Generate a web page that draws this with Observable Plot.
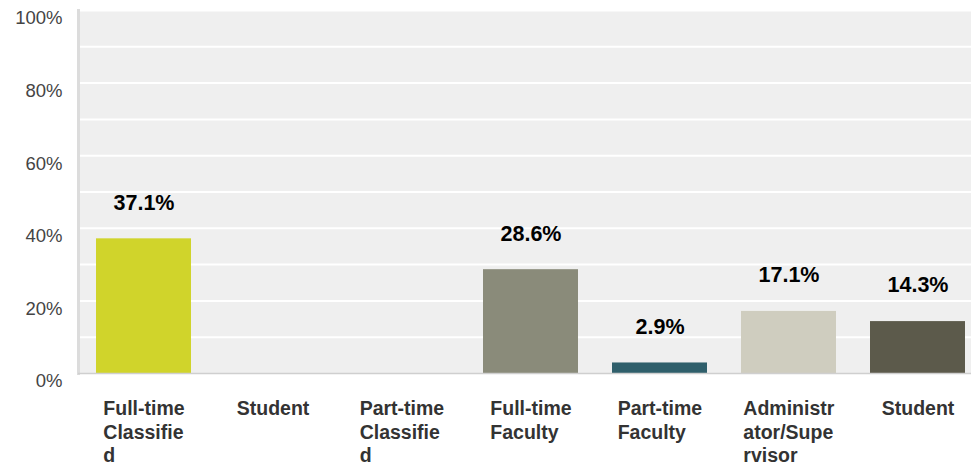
<!DOCTYPE html>
<html><head><meta charset="utf-8">
<script src="https://cdn.jsdelivr.net/npm/d3@7"></script>
<script src="https://cdn.jsdelivr.net/npm/@observablehq/plot@0.6"></script>
<style>
body{margin:0;background:#fff;}
svg{font-family:"Liberation Sans",Arial,Helvetica,sans-serif;}
</style>
</head><body><div id="chart"></div>
<script>
const categories = ["Full-time Classified","Student","Part-time Classified","Full-time Faculty","Part-time Faculty","Administrator/Supervisor","Student"];
const tickLabels = ["Full-time\nClassifie\nd","Student","Part-time\nClassifie\nd","Full-time\nFaculty","Part-time\nFaculty","Administr\nator/Supe\nrvisor","Student"];
const values = [37.1, 0, 0, 28.6, 2.9, 17.1, 14.3];
const colors = ["#d0d42b","#8a8b7a","#2f5f6b","#8a8b7a","#2f5f6b","#cfcdbf","#5c5a4b"];
const yTicks = [0,20,40,60,80,100];
const gridTicks = [10,20,30,40,50,60,70,80,90,100];

const data = categories.map((c,i)=>({i, category:c, value: values[i], color: colors[i]}));

const chart = Plot.plot({
  width: 971, height: 466,
  marginLeft: 78, marginRight: 0, marginTop: 10, marginBottom: 93,
  style: {fontFamily: '"Liberation Sans",Arial,Helvetica,sans-serif', background: "#fff"},
  x: {domain: d3.range(categories.length), range: [78, 983], paddingInner: 0.265, paddingOuter: 0.1325, axis: null},
  y: {domain: [0,100], axis: null},
  marks: [
    Plot.frame({fill: "#efefef", stroke: null}),
    Plot.ruleY(gridTicks, {stroke: "#ffffff", strokeWidth: 2}),
    Plot.barY(data.filter(d=>d.value>0), {x: "i", y: "value", fill: "color"}),
    Plot.text(data.filter(d=>d.value>0), {x:"i", y:"value", text: d=>d.value.toFixed(1)+"%", dy: -36, fontSize: 21.5, fontWeight: "bold", fill: "#000"}),
    Plot.frame({anchor: "left", stroke: "#dcdcdc", strokeWidth: 3}),
    Plot.ruleY([0], {stroke: "#cfcfcf", strokeWidth: 1.5}),
    Plot.axisY({ticks: yTicks, tickFormat: d=>d+"%", tickSize: 0, tickPadding: 16, dy: 8, fontSize: 18.5, fill: "#444", label: null}),
    Plot.axisX({tickFormat: i => tickLabels[i], tickSize: 0, tickPadding: 25, fontSize: 19.5, fontWeight: "bold", fill: "#333", lineHeight: 1.21, lineAnchor: "top", label: null})
  ]
});
document.getElementById("chart").appendChild(chart);

// left-align wrapped lines within a centered block
chart.querySelectorAll('g[aria-label="x-axis tick label"] text').forEach(t => {
  const spans = t.querySelectorAll("tspan");
  if (spans.length > 1) {
    const w = t.getBBox().width;
    t.setAttribute("text-anchor", "start");
    spans.forEach(s => s.setAttribute("x", -w/2));
  }
});
</script>
</body></html>
